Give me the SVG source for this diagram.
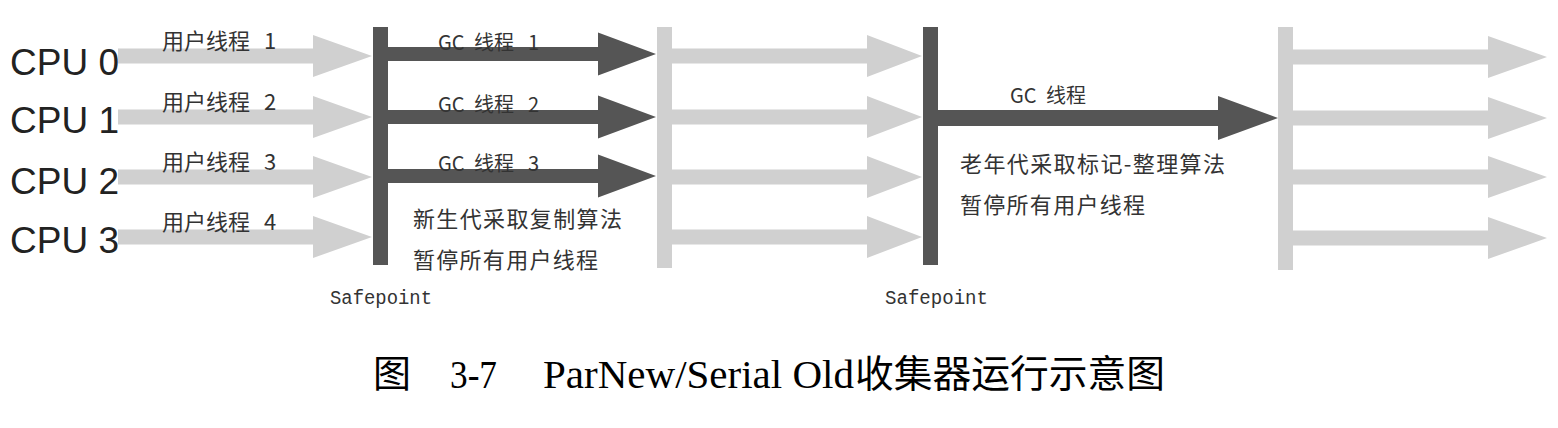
<svg xmlns="http://www.w3.org/2000/svg" width="1558" height="428" viewBox="0 0 1558 428">
<style>
.light{fill:#d0d0d0}
.dark{fill:#555555}
.cpu{font-family:"Liberation Sans",Arial,sans-serif;font-size:37px;fill:#222}
.lbl{font-family:"Noto Sans CJK SC",sans-serif;font-size:22px;fill:#333}
.gc{font-family:"Noto Sans CJK SC",sans-serif;font-size:20px;fill:#333}
.note{font-family:"Noto Sans CJK SC",sans-serif;font-size:22px;fill:#333}
.sp{font-family:"Liberation Mono",monospace;font-size:20px;fill:#333}
.cap{font-family:"Liberation Serif","Noto Sans CJK SC",serif;font-size:40px;fill:#000}
.capcjk{font-family:"Noto Sans CJK SC",sans-serif;font-size:38px;fill:#000}
</style>
<rect width="1558" height="428" fill="#ffffff"/>
<g id="cpu-labels">
<text class="cpu" x="10" y="75">CPU 0</text>
<text class="cpu" x="10" y="133">CPU 1</text>
<text class="cpu" x="10" y="194">CPU 2</text>
<text class="cpu" x="10" y="253">CPU 3</text>
</g>
<g id="connectors">
<path class="light" d="M118 48.5 H313 V35 L372 56 L313 77 V63.5 H118 Z"/>
<path class="light" d="M118 109.5 H313 V96 L372 117 L313 138 V124.5 H118 Z"/>
<path class="light" d="M118 169.5 H313 V156 L372 177 L313 198 V184.5 H118 Z"/>
<path class="light" d="M118 229.5 H313 V216 L372 237 L313 258 V244.5 H118 Z"/>
<path class="dark" d="M388 47 H598 V32.5 L656 54 L598 75.5 V61 H388 Z"/>
<path class="dark" d="M388 110 H598 V95.5 L656 117 L598 138.5 V124 H388 Z"/>
<path class="dark" d="M388 169 H598 V154.5 L656 176 L598 197.5 V183 H388 Z"/>
<path class="light" d="M672 48.5 H867 V35 L922 56 L867 77 V63.5 H672 Z"/>
<path class="light" d="M672 109.5 H867 V96 L922 117 L867 138 V124.5 H672 Z"/>
<path class="light" d="M672 169.5 H867 V156 L922 177 L867 198 V184.5 H672 Z"/>
<path class="light" d="M672 229.5 H867 V216 L922 237 L867 258 V244.5 H672 Z"/>
<path class="dark" d="M938 110 H1218 V96 L1278 118 L1218 140 V126 H938 Z"/>
<path class="light" d="M1293 49.5 H1488 V36 L1547 57 L1488 78 V64.5 H1293 Z"/>
<path class="light" d="M1293 110.5 H1488 V97 L1547 118 L1488 139 V125.5 H1293 Z"/>
<path class="light" d="M1293 169.5 H1488 V156 L1547 177 L1488 198 V184.5 H1293 Z"/>
<path class="light" d="M1293 230.5 H1488 V217 L1547 238 L1488 259 V245.5 H1293 Z"/>
</g>
<g id="safepoint1">
<rect class="dark" x="373" y="27" width="15" height="238"/>
<text class="sp" x="330" y="304" textLength="102" lengthAdjust="spacingAndGlyphs">Safepoint</text>
</g>
<g id="resume1">
<rect class="light" x="657" y="27" width="15" height="241"/>
</g>
<g id="safepoint2">
<rect class="dark" x="923" y="27" width="15" height="238"/>
<text class="sp" x="885" y="304" textLength="103" lengthAdjust="spacingAndGlyphs">Safepoint</text>
</g>
<g id="resume2">
<rect class="light" x="1278" y="27" width="15" height="243"/>
</g>
<g id="user-threads">
<text class="lbl" y="49"><tspan x="162">用户线程</tspan><tspan x="264">1</tspan></text>
<text class="lbl" y="110"><tspan x="162">用户线程</tspan><tspan x="264">2</tspan></text>
<text class="lbl" y="170"><tspan x="162">用户线程</tspan><tspan x="264">3</tspan></text>
<text class="lbl" y="230"><tspan x="162">用户线程</tspan><tspan x="264">4</tspan></text>
</g>
<g id="young-gc">
<text class="gc" y="50"><tspan x="438">GC</tspan><tspan x="474">线程</tspan><tspan x="528">1</tspan></text>
<text class="gc" y="112"><tspan x="438">GC</tspan><tspan x="474">线程</tspan><tspan x="528">2</tspan></text>
<text class="gc" y="171"><tspan x="438">GC</tspan><tspan x="474">线程</tspan><tspan x="528">3</tspan></text>
<text class="note" x="413" y="227" textLength="209" lengthAdjust="spacing">新生代采取复制算法</text>
<text class="note" x="413" y="268" textLength="185" lengthAdjust="spacing">暂停所有用户线程</text>
</g>
<g id="old-gc">
<text class="gc" y="103"><tspan x="1010">GC</tspan><tspan x="1046">线程</tspan></text>
<text class="note" x="960" y="172" textLength="265" lengthAdjust="spacing">老年代采取标记-整理算法</text>
<text class="note" x="960" y="213" textLength="185" lengthAdjust="spacing">暂停所有用户线程</text>
</g>
<g id="caption">
<text class="capcjk" x="373" y="387">图</text>
<text class="cap" x="450" y="388" textLength="47" lengthAdjust="spacingAndGlyphs">3-7</text>
<text class="cap" x="543" y="388" textLength="311" lengthAdjust="spacingAndGlyphs">ParNew/Serial Old</text>
<text class="capcjk" x="855" y="387" textLength="310" lengthAdjust="spacingAndGlyphs">收集器运行示意图</text>
</g>
</svg>
